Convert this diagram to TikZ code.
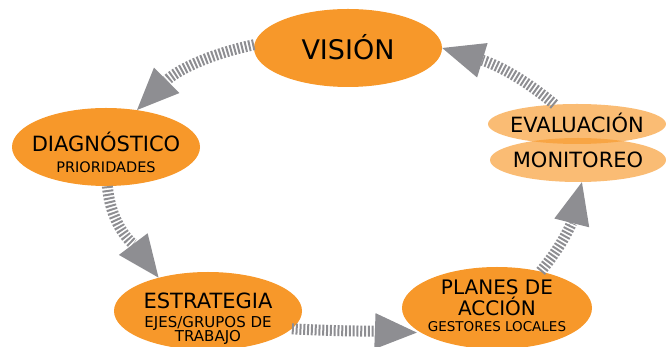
\documentclass[tikz,border=0pt]{standalone}
\usepackage{fontspec}
\setmainfont{DejaVu Sans}
\usetikzlibrary{arrows.meta}
\usetikzlibrary{shapes.geometric}

\definecolor{blobor}{RGB}{247,152,42}
\definecolor{flowgray}{RGB}{142,142,146}

\begin{document}
\begin{tikzpicture}[x=1pt, y=1pt,
	blob/.style={ellipse, fill=blobor, inner sep=0pt},
	paleblob/.style={ellipse, fill=blobor, fill opacity=0.65, inner sep=0pt},
	flow/.style={draw=flowgray, line width=11pt, dash pattern=on 2pt off 1.8pt,
		-{Triangle[length=42pt, width=36pt, line width=0pt, fill=flowgray]}},
	big/.style={font=\fontsize{21}{21}\selectfont, align=center}]

	\useasboundingbox (0,0) rectangle (666,347);

	%ellipses (stages)
	\node[blob, minimum width=188pt, minimum height=78pt] (vision) at (348,299) {};
	\node[blob, minimum width=188pt, minimum height=78pt] (diag) at (106,200) {};
	\node[blob, minimum width=188pt, minimum height=78pt] (estr) at (208,36) {};
	\node[blob, minimum width=190pt, minimum height=82pt] (planes) at (497,39) {};

	% pale pair on the right
	\node[paleblob, minimum width=178pt, minimum height=40pt] (eval) at (577,223) {};
	\node[paleblob, minimum width=176pt, minimum height=44pt] (moni) at (578,187) {};


	% Text nodes
	\node[font=\fontsize{27}{27}\selectfont] (visiontxt) at (348,300) {VISIÓN};
	\node[big] (diagtxt) at (106,195) {DIAGNÓSTICO\\{\fontsize{14.5}{21}\selectfont PRIORIDADES}};
	\node[big] (estrtxt) at (208,28) {ESTRATEGIA\\[-2pt]{\fontsize{15}{21}\selectfont EJES/GRUPOS DE}\\[-7pt]{\fontsize{15}{21}\selectfont TRABAJO}};
	\node[big, font=\fontsize{20}{21}\selectfont] (planestxt) at (497,41) {PLANES DE\\ACCIÓN\\[-5pt]{\fontsize{13.5}{21}\selectfont GESTORES LOCALES}};
	\node[big] (evaltxt) at (577,224) {EVALUACIÓN};
	\node[big] (monitxt) at (578,187) {MONITOREO};

	% Arrows
	\draw[flow] (vision.178) to[out=192, in=45] (diag.50);
	\draw[flow] (diag.-88) to[out=-85, in=127] (estr.146);
	\draw[flow, shorten >=4pt] (estr.-12) to[out=-3, in=178] (planes.198);
	\draw[flow] (planes.40) to[out=50, in=256] (moni.-80);
	\draw[flow] (eval.139) to[out=140, in=-17] (vision.east);
\end{tikzpicture}
\end{document}
